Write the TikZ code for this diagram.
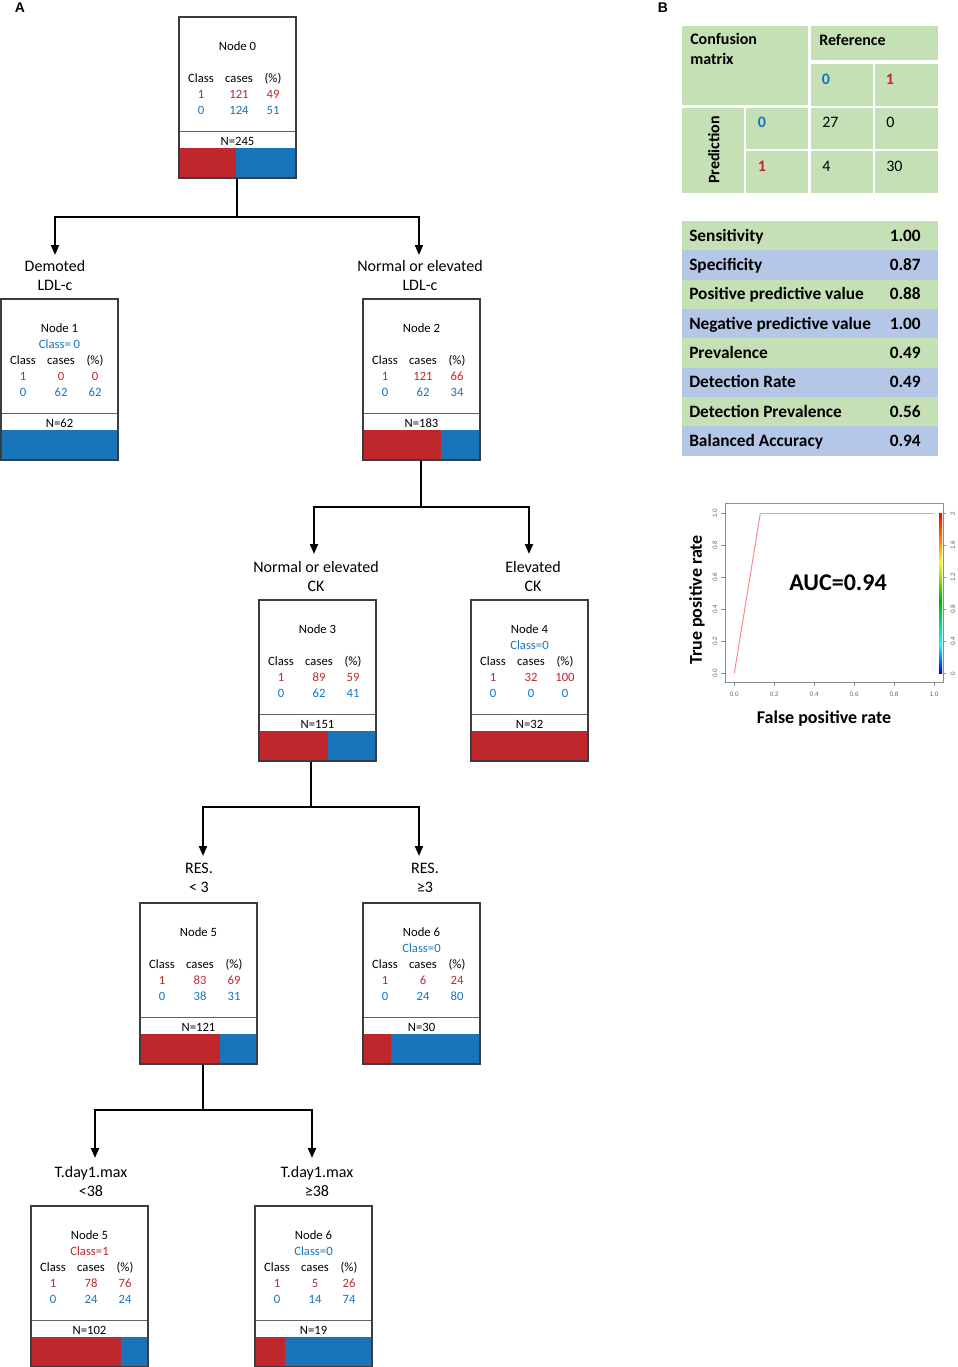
\documentclass[tikz,border=0pt]{standalone}
\usepackage{fontspec}
\setmainfont{Carlito}
\newfontfamily\arialfont{Liberation Sans}
\usepackage{xcolor}
\usepackage{tikz}
\usetikzlibrary{positioning,arrows.meta}

\definecolor{cred}{RGB}{192,39,45}
\definecolor{cblue}{RGB}{24,116,187}
\definecolor{cgreen}{RGB}{197,224,180}
\definecolor{crow}{RGB}{180,199,231}
\definecolor{frame}{RGB}{60,60,60}
\definecolor{rocred}{RGB}{255,130,130}
\definecolor{rocgreen}{RGB}{150,215,110}

\tikzset{
    box/.style={draw=frame, line width=0.8pt, minimum width=87.75pt, minimum height=120.75pt, inner sep=0pt},
    divider/.style={draw=frame!80, line width=0.6pt},
    txt/.style={font=\fontsize{9.5}{11}\selectfont, inner sep=0pt, text height=6.5pt, text depth=0pt},
    split/.style={font=\fontsize{12}{14.25}\selectfont, align=center, inner sep=0pt, anchor=north},
    edge/.style={line width=1.5pt, -{Triangle[length=7.5pt,width=6pt]}},
    tb/.style={font=\bfseries\fontsize{12}{15}\selectfont, inner sep=0pt, text height=8pt, text depth=0pt},
    tn/.style={font=\fontsize{12}{15}\selectfont, inner sep=0pt, text height=8pt, text depth=0pt},
    st/.style={font=\bfseries\fontsize{13}{15}\selectfont, inner sep=0pt, text height=8.5pt, text depth=0pt},
    tick/.style={font=\arialfont\fontsize{4.8}{5}\selectfont, text=black!60, inner sep=0pt},
    axis/.style={font=\bfseries\fontsize{13.5}{16}\selectfont, inner sep=0pt},
    panel/.style={font=\arialfont\bfseries\fontsize{10.5}{12}\selectfont, inner sep=0pt}
}

\newcommand{\treebox}[9]{%
    \begin{scope}[shift={(P#1)}]
        \fill[cred] (0,131) rectangle (#9,161);
        \fill[cblue] (#9,131) rectangle (117,161);
        \draw[divider] (0,114) -- (117,114);
        \node[box] (N#1) at (58.5,80.5) {};
        \node[txt] (N#1t) at (58.5,29) {#2};
        \node[txt] (N#1c) at (58.5,45) {#3};
        \node[txt] (N#1h1) at (22,61) {Class};
        \node[txt] (N#1h2) at (60,61) {cases};
        \node[txt] (N#1h3) at (94,61) {(\%)};
        \node[txt, text=cred] (N#1a1) at (22,77) {1};
        \node[txt, text=cred] (N#1a2) at (60,77) {#4};
        \node[txt, text=cred] (N#1a3) at (94,77) {#5};
        \node[txt, text=cblue] (N#1b1) at (22,93) {0};
        \node[txt, text=cblue] (N#1b2) at (60,93) {#6};
        \node[txt, text=cblue] (N#1b3) at (94,93) {#7};
        \node[txt] (N#1n) at (58.5,124) {N=#8};
    \end{scope}}

\begin{document}
\begin{tikzpicture}[x=0.75pt, y=-0.75pt]
    \useasboundingbox (0,0) rectangle (957,1367);

    \coordinate (P0) at (179,17);
    \coordinate (P1) at (1,299);
    \coordinate (P2) at (363,299);
    \coordinate (P3) at (259,600);
    \coordinate (P4) at (471,600);
    \coordinate (P5) at (140,903);
    \coordinate (P6) at (363,903);
    \coordinate (P7) at (31,1206);
    \coordinate (P8) at (255,1206);

    \coordinate (J0) at (237,217);
    \coordinate (T1) at (55,255);
    \coordinate (T2) at (419,255);
    \coordinate (J2) at (421,507);
    \coordinate (T3) at (314,554);
    \coordinate (T4) at (529,554);
    \coordinate (J3) at (311,807);
    \coordinate (T5) at (203,856);
    \coordinate (T6) at (419,856);
    \coordinate (J5) at (203,1110);
    \coordinate (T7) at (95,1158);
    \coordinate (T8) at (312,1158);

    \node[panel] (PA) at (20,8) {A};
    \node[panel] (PB) at (663,8) {B};

    \treebox{0}{Node 0}{}{121}{49}{124}{51}{245}{57}
    \treebox{1}{Node 1}{\textcolor{cblue}{Class= 0}}{0}{0}{62}{62}{62}{0}
    \treebox{2}{Node 2}{}{121}{66}{62}{34}{183}{78}
    \treebox{3}{Node 3}{}{89}{59}{62}{41}{151}{69}
    \treebox{4}{Node 4}{\textcolor{cblue}{Class=0}}{32}{100}{0}{0}{32}{117}
    \treebox{5}{Node 5}{}{83}{69}{38}{31}{121}{80}
    \treebox{6}{Node 6}{\textcolor{cblue}{Class=0}}{6}{24}{24}{80}{30}{28}
    \treebox{7}{Node 5}{\textcolor{cred}{Class=1}}{78}{76}{24}{24}{102}{90}
    \treebox{8}{Node 6}{\textcolor{cblue}{Class=0}}{5}{26}{14}{74}{19}{30}

    \node[split] (L1) at (55,260) {Demoted\\LDL-c};
    \node[split] (L2) at (420,260) {Normal or elevated\\LDL-c};
    \node[split] (L3) at (316,561) {Normal or elevated\\CK};
    \node[split] (L4) at (533,561) {Elevated\\CK};
    \node[split] (L5) at (199,863) {RES.\\< 3};
    \node[split] (L6) at (425,863) {RES.\\≥3};
    \node[split] (L7) at (91,1166) {T.day1.max\\<38};
    \node[split] (L8) at (317,1166) {T.day1.max\\≥38};

    \draw[edge] (N0.south -| J0) -- (J0) -| (T1);
    \draw[edge] (J0) -| (T2);
    \draw[edge] (N2.south -| J2) -- (J2) -| (T3);
    \draw[edge] (J2) -| (T4);
    \draw[edge] (N3.south -| J3) -- (J3) -| (T5);
    \draw[edge] (J3) -| (T6);
    \draw[edge] (N5.south -| J5) -- (J5) -| (T7);
    \draw[edge] (J5) -| (T8);

    \fill[cgreen] (682,26) rectangle (808,105);
    \fill[cgreen] (811,26) rectangle (938,60);
    \fill[cgreen] (811,64) rectangle (873,106);
    \fill[cgreen] (875,64) rectangle (938,106);
    \fill[cgreen] (682,108) rectangle (744,193);
    \fill[cgreen] (746,108) rectangle (808,149);
    \fill[cgreen] (746,151) rectangle (808,193);
    \fill[cgreen] (811,108) rectangle (873,149);
    \fill[cgreen] (875,108) rectangle (938,149);
    \fill[cgreen] (811,151) rectangle (873,193);
    \fill[cgreen] (875,151) rectangle (938,193);

    \node[tb, anchor=north west, align=left, text height=] (CM) at (690,33) {Confusion\\matrix};
    \node[tb, anchor=west] (RF) at (819,40) {Reference};
    \node[tb, text=cblue] (R0) at (826,79) {0};
    \node[tb, text=cred] (R1) at (890,79) {1};
    \node[tb, rotate=90] (PR) at (714,150) {Prediction};
    \node[tb, text=cblue] (Q0) at (762,122) {0};
    \node[tb, text=cred] (Q1) at (762,166) {1};
    \node[tn, anchor=west] (C00) at (822,122) {27};
    \node[tn, anchor=west] (C01) at (886,122) {0};
    \node[tn, anchor=west] (C10) at (822,166) {4};
    \node[tn, anchor=west] (C11) at (886,166) {30};

    \fill[cgreen] (682,221) rectangle (938,250.3);
    \fill[crow] (682,250.3) rectangle (938,279.6);
    \fill[cgreen] (682,279.6) rectangle (938,308.9);
    \fill[crow] (682,308.9) rectangle (938,338.2);
    \fill[cgreen] (682,338.2) rectangle (938,367.5);
    \fill[crow] (682,367.5) rectangle (938,396.8);
    \fill[cgreen] (682,396.8) rectangle (938,426.1);
    \fill[crow] (682,426.1) rectangle (938,455.7);

    \node[st, anchor=west] (S1) at (689,235.6) {Sensitivity};
    \node[st, anchor=west] (S2) at (689,265.0) {Specificity};
    \node[st, anchor=west] (S3) at (689,294.3) {Positive predictive value};
    \node[st, anchor=west] (S4) at (689,323.6) {Negative predictive value};
    \node[st, anchor=west] (S5) at (689,352.9) {Prevalence};
    \node[st, anchor=west] (S6) at (689,382.2) {Detection Rate};
    \node[st, anchor=west] (S7) at (689,411.5) {Detection Prevalence};
    \node[st, anchor=west] (S8) at (689,440.9) {Balanced Accuracy};
    \node[st, anchor=east] (V1) at (921,235.6) {1.00};
    \node[st, anchor=east] (V2) at (921,265.0) {0.87};
    \node[st, anchor=east] (V3) at (921,294.3) {0.88};
    \node[st, anchor=east] (V4) at (921,323.6) {1.00};
    \node[st, anchor=east] (V5) at (921,352.9) {0.49};
    \node[st, anchor=east] (V6) at (921,382.2) {0.49};
    \node[st, anchor=east] (V7) at (921,411.5) {0.56};
    \node[st, anchor=east] (V8) at (921,440.9) {0.94};

    \draw[black!45, line width=0.4pt] (725,503) rectangle (943,682);
    \foreach \t/\lab in {0/0.0, 1/0.2, 2/0.4, 3/0.6, 4/0.8, 5/1.0} {
        \draw[black!45, line width=0.4pt] (734.3+39.94*\t,682) -- ++(0,4);
        \node[tick] (X\t) at (734.3+39.94*\t,694) {\lab};
        \draw[black!45, line width=0.4pt] (725,673.3-32*\t) -- ++(-4,0);
        \node[tick, rotate=90] (Y\t) at (715,673.3-32*\t) {\lab};
    }
    \foreach \t/\lab in {0/0, 1/0.4, 2/0.8, 3/1.2, 4/1.6, 5/2} {
        \draw[black!45, line width=0.4pt] (943,673.3-32*\t) -- ++(3,0);
        \node[tick, rotate=90] (Z\t) at (953,673.3-32*\t) {\lab};
    }

    \coordinate (ROC0) at (734.3,673.3);
    \coordinate (ROC1) at (760.3,513.3);
    \coordinate (ROC2) at (934,513.3);
    \draw[rocred, line width=0.7pt] (ROC0) -- (ROC1);
    \draw[rocgreen, line width=0.7pt] (ROC1) -- (ROC2);

    \shade[top color=red, bottom color=orange] (939,513) rectangle (942,540);
    \shade[top color=orange, bottom color=yellow] (939,540) rectangle (942,562);
    \shade[top color=yellow, bottom color=green!70!black] (939,562) rectangle (942,600);
    \shade[top color=green!70!black, bottom color=cyan] (939,600) rectangle (942,645);
    \shade[top color=cyan, bottom color=blue!80!black] (939,645) rectangle (942,673);

    \node[font=\bfseries\fontsize{18}{20}\selectfont, inner sep=0pt] (AUC) at (838,583) {AUC=0.94};
    \node[axis, rotate=90] (YL) at (697,600) {True positive rate};
    \node[axis] (XL) at (824,719) {False positive rate};
\end{tikzpicture}
\end{document}
